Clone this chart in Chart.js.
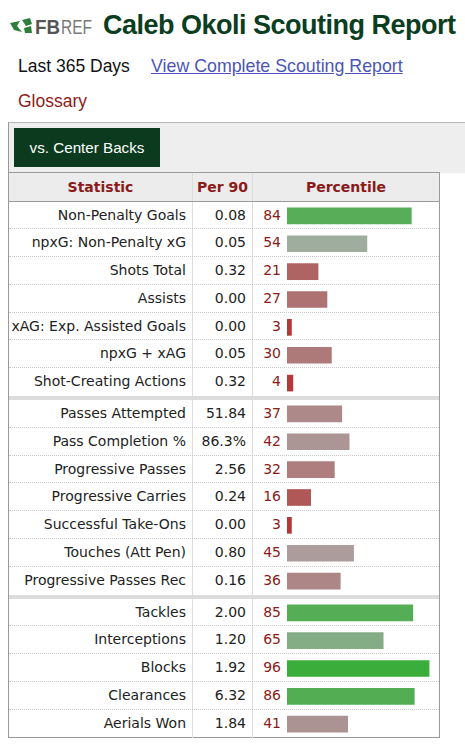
<!DOCTYPE html>
<html>
<head>
<meta charset="utf-8">
<script src="https://cdn.jsdelivr.net/npm/chart.js@4"></script>
<style>
  body { margin: 0; background: #fff; width: 465px; height: 750px; overflow: hidden; position: relative; font-family: "Liberation Sans", Arial, sans-serif; }
  .abs { position: absolute; white-space: nowrap; }
  #logo { left: 10px; top: 14px; height: 24px; }
  #title { left: 103px; top: 8px; font-size: 27px; font-weight: bold; color: #0b3d21; letter-spacing: -0.5px; line-height: 34px; }
  #days { left: 18px; top: 55px; font-size: 17.5px; color: #111; line-height: 22px; }
  #link { left: 151px; top: 55px; font-size: 17.8px; color: #4b55b8; text-decoration: underline; line-height: 22px; }
  #gloss { left: 18px; top: 90px; font-size: 17.5px; color: #8b1c1c; line-height: 22px; }
  #strip { left: 8px; top: 122px; width: 457px; height: 51px; background: #eeeeee; border-top: 1px solid #b5b5b5; border-left: 1px solid #999; box-sizing: border-box; }
  #btn { left: 14px; top: 128px; width: 146px; height: 39px; background: #0b3a1e; color: #fff; font-size: 15.2px; text-align: center; line-height: 39px; }
  #tbl { left: 8px; top: 172px; width: 432px; border: 1px solid #9a9a9a; border-top: 1px solid #9a9a9a; box-sizing: border-box; height: 566px; font-family: "DejaVu Sans", Verdana, sans-serif; font-size: 14px; }
  .row { display: flex; height: 27.8px; align-items: center; box-sizing: border-box; position: relative; }
  .row.dot { border-bottom: 1px dotted #c8c8c8; }
  .c1 { width: 184px; text-align: right; padding-right: 6px; box-sizing: border-box; border-right: 1px solid #ddd; height: 100%; line-height: 27.8px; color: #222; }
  .c2 { width: 60px; text-align: right; padding-right: 6px; box-sizing: border-box; border-right: 1px solid #ddd; height: 100%; line-height: 27.8px; color: #222; }
  .c3 { width: 28px; text-align: right; height: 100%; line-height: 27.8px; color: #8b1a1a; }
  .hdr { background: #ececec; border-bottom: 1px solid #9a9a9a; height: 28.5px; font-weight: bold; color: #8b1a1a; }
  .hdr .c1, .hdr .c2 { text-align: center; padding-right: 0; color: #8b1a1a; line-height: 28px; }
  .hdr .c3 { width: auto; flex: 1; text-align: center; color: #8b1a1a; line-height: 28px; }
  .sep { height: 4px; background: #dcdcdc; }
  .grp { position: relative; }
  .grp canvas { position: absolute; left: 278px; top: 0; }
</style>
</head>
<body>

<svg id="logo" class="abs" width="84" height="24" viewBox="0 0 84 24">
  <path d="M0 9 L10 7 L7 12 L12 18 L4 16 Z" fill="#2f7d3c"/>
  <path d="M12 6 L20 4 L22 10 L16 12 Z" fill="#2f7d3c"/>
  <path d="M14 14 L21 12 L22 19 L15 19 Z" fill="#2f7d3c"/>
  <text x="25" y="20" font-family="Liberation Sans" font-weight="bold" font-size="20" fill="#555" textLength="25" lengthAdjust="spacingAndGlyphs">FB</text>
  <text x="51" y="20" font-family="Liberation Sans" font-size="20" fill="#7a7a7a" textLength="31" lengthAdjust="spacingAndGlyphs">REF</text>
</svg>
<div id="title" class="abs">Caleb Okoli Scouting Report</div>
<div id="days" class="abs">Last 365 Days</div>
<div id="link" class="abs">View Complete Scouting Report</div>
<div id="gloss" class="abs">Glossary</div>
<div id="strip" class="abs"></div>
<div id="btn" class="abs">vs. Center Backs</div>

<div id="tbl" class="abs">
  <div class="row hdr"><div class="c1">Statistic</div><div class="c2">Per 90</div><div class="c3">Percentile</div></div>
  <div id="groups"></div>
</div>

<script>
// standard stats
var stats1 = ['Non-Penalty Goals', 'npxG: Non-Penalty xG', 'Shots Total', 'Assists', 'xAG: Exp. Assisted Goals', 'npxG + xAG', 'Shot-Creating Actions'];
var per90_1 = ['0.08', '0.05', '0.32', '0.00', '0.00', '0.05', '0.32'];
var pct1 = [84, 54, 21, 27, 3, 30, 4];

// passing / possession
var stats2 = ['Passes Attempted', 'Pass Completion %', 'Progressive Passes', 'Progressive Carries', 'Successful Take-Ons', 'Touches (Att Pen)', 'Progressive Passes Rec'];
var per90_2 = ['51.84', '86.3%', '2.56', '0.24', '0.00', '0.80', '0.16'];
var pct2 = [37, 42, 32, 16, 3, 45, 36];

// defending
var stats3 = ['Tackles', 'Interceptions', 'Blocks', 'Clearances', 'Aerials Won'];
var per90_3 = ['2.00', '1.20', '1.92', '6.32', '1.84'];
var pct3 = [85, 65, 96, 86, 41];

var ROW_H = 27.8;

// red -> grey -> green depending on percentile
function pctColor(p) {
  var r, g, b;
  if (p >= 50) {
    var t = (p - 50) / 50;
    r = Math.round(168 - t * 118);
    g = 173;
    b = r;
  } else {
    var t = (50 - p) / 50;
    r = Math.round(171 + t * 7);
    g = Math.round(168 - t * 118);
    b = g;
  }
  return 'rgb(' + r + ',' + g + ',' + b + ')';
}

function buildGroup(stats, per90, pct, last) {
  var holder = document.getElementById('groups');
  var grp = document.createElement('div');
  grp.className = 'grp';
  stats.forEach(function (s, i) {
    var row = document.createElement('div');
    row.className = 'row' + (i < stats.length - 1 ? ' dot' : '');
    row.innerHTML = '<div class="c1">' + s + '</div><div class="c2">' + per90[i] + '</div><div class="c3">' + pct[i] + '</div>';
    grp.appendChild(row);
  });
  var cv = document.createElement('canvas');
  cv.width = 148;
  cv.height = Math.round(stats.length * ROW_H);
  grp.appendChild(cv);
  holder.appendChild(grp);
  if (!last) {
    var sep = document.createElement('div');
    sep.className = 'sep';
    holder.appendChild(sep);
  }

  new Chart(cv.getContext('2d'), {
    type: 'bar',
    data: {
      labels: stats,
      datasets: [{
        data: pct,
        backgroundColor: pct.map(pctColor),
        borderWidth: 0,
        barThickness: 16,
      }],
    },
    options: {
      indexAxis: 'y',
      responsive: false,
      animation: false,
      layout: { padding: 0 },
      plugins: { legend: { display: false }, tooltip: { enabled: false } },
      scales: {
        x: { display: false, min: 0, max: 100 },
        y: { display: false },
      },
    },
  });
}

buildGroup(stats1, per90_1, pct1, false);
buildGroup(stats2, per90_2, pct2, false);
buildGroup(stats3, per90_3, pct3, true);
</script>
</body>
</html>
